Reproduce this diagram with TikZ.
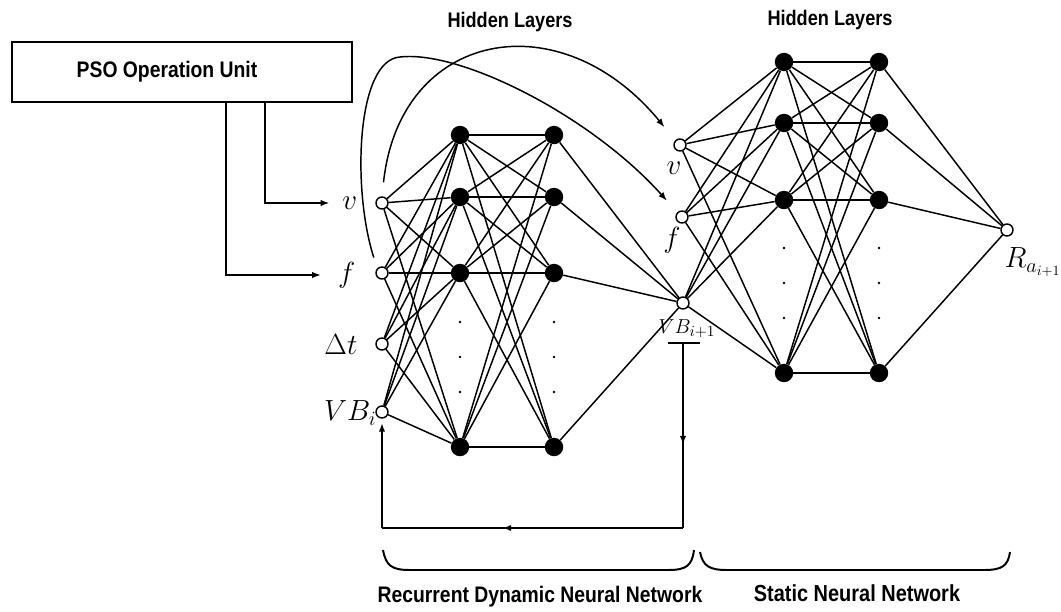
\documentclass[tikz,border=0pt]{standalone}
\usepackage{amsmath}
\usepackage{fontspec}
\newfontfamily\lblfont[FakeStretch=0.86]{Liberation Sans}
\usetikzlibrary{arrows.meta,decorations.markings}
\tikzset{
    in unit/.style={circle, draw, line width=1pt, fill=white, inner sep=0pt, minimum size=0.3cm},
    hid unit/.style={circle, fill=black, inner sep=0pt, minimum size=0.46cm},
    gap dot/.style={circle, fill=black, inner sep=0pt, minimum size=0.07cm},
    var label/.style={font=\fontsize{20}{22}\selectfont, inner sep=1pt},
    title/.style={font=\lblfont\bfseries\fontsize{15}{18}\selectfont},
    link/.style={line width=1.05pt},
    feed/.style={line width=1.2pt},
    mid arrow/.style={postaction={decorate}, decoration={markings, mark=at position #1 with {\arrow{Latex[length=2.2mm,width=1.6mm]}}}},
    brace line/.style={line width=1.4pt}
}
\begin{document}
\begin{tikzpicture}[x=0.025cm, y=-0.025cm, >={Latex[length=2.2mm,width=1.6mm]}]
    \useasboundingbox (0,0) rectangle (1061,612);
    \node[draw, line width=1.4pt, minimum width=8.5cm, minimum height=1.52cm, title, font=\lblfont\bfseries\fontsize{16}{18}\selectfont] (pso) at (182,72) {\hspace*{-0.75cm}PSO Operation Unit};
    \node[title] (hidL) at (510,22) {Hidden Layers};
    \node[title] (hidR) at (830,20) {Hidden Layers};
    \begin{scope}[every node/.style={in unit}]
        \node (inL1) at (382,203) {};
        \node (inL2) at (382,273) {};
        \node (inL3) at (382,344) {};
        \node (inL4) at (382,412) {};
        \node (vbOut) at (683,303) {};
        \node (inR1) at (680,145) {};
        \node (inR2) at (682,217) {};
        \node (rOut) at (1007,230) {};
    \end{scope}
    \foreach \n/\y in {1/135,2/197,3/273,4/447} {
        \node[hid unit] (hA\n) at (460,\y) {};
        \node[hid unit] (hB\n) at (554,\y) {};
    }
    \foreach \n/\y in {1/62,2/123,3/200,4/373} {
        \node[hid unit] (hC\n) at (784,\y) {};
        \node[hid unit] (hD\n) at (879,\y) {};
    }
    \foreach \y in {322,357,392} {
        \node[gap dot] at (460,\y) {};
        \node[gap dot] at (554,\y) {};
    }
    \foreach \y in {248,283,318} {
        \node[gap dot] at (784,\y) {};
        \node[gap dot] at (879,\y) {};
    }
    \foreach \i in {1,...,4} {
        \foreach \j in {1,...,4} {
            \draw[link] (inL\i) -- (hA\j);
            \draw[link] (hA\i) -- (hB\j);
            \draw[link] (hC\i) -- (hD\j);
        }
    }
    \foreach \j in {1,...,4} {
        \draw[link] (hB\j) -- (vbOut);
        \draw[link] (hD\j) -- (rOut);
        \foreach \s in {inR1,inR2,vbOut}
            \draw[link] (\s) -- (hC\j);
    }
    \node[var label, anchor=east] (vLab) at (359,203) {$v$};
    \node[var label, anchor=east] (fLab) at (357,275) {$f$};
    \node[var label, anchor=east] (dtLab) at (359,345) {$\Delta t$};
    \node[var label, anchor=east] (vbLab) at (378,413) {$VB_i$};
    \node[var label] (vRLab) at (674,168) {$v$};
    \node[var label] (fRLab) at (672,240) {$f$};
    \node[var label, font=\fontsize{15}{17}\selectfont] (vbOutLab) at (687,329) {$VB_{i+1}$};
    \node[var label, anchor=west] (rLab) at (1003,262) {$R_{a_{i+1}}$};
    \draw[feed, ->, shorten >=8pt] (pso.south -| 265,0) |- (vLab.west);
    \draw[feed, ->, shorten >=11pt] (pso.south -| 226,0) |- (fLab.west);
    \draw[link, ->, shorten <=10pt, shorten >=12pt] (inL1.north) .. controls (400,30) and (560,0) .. (inR1.north west);
    \draw[link, ->, shorten <=8pt, shorten >=11pt] (inL2.north west) .. controls (352,190) and (356,60) .. (400,57) .. controls (460,50) and (590,115) .. (inR2.north west);
    \coordinate (fbTop) at (683,343);
    \coordinate (fbCorner) at (683,528);
    \coordinate (fbBack) at (382,528);
    \draw[line width=1.4pt] (fbTop) ++(-15,0) -- ++(32,0);
    \draw[feed, mid arrow=0.55] (fbTop) -- (fbCorner);
    \draw[feed, mid arrow=0.6] (fbCorner) -- (fbBack);
    \draw[feed, ->, shorten >=3pt] (fbBack) -- (inL4);
    \draw[brace line] (383,550) .. controls (386,566) and (392,570) .. (410,570) -- (668,570) .. controls (686,570) and (692,566) .. (694,550);
    \draw[brace line] (700,552) .. controls (703,566) and (709,570) .. (727,570) -- (984,570) .. controls (1002,570) and (1008,566) .. (1010,552);
    \node[title, font=\lblfont\bfseries\fontsize{16}{18}\selectfont] (rdnn) at (540,597) {Recurrent Dynamic Neural Network};
    \node[title, font=\lblfont\bfseries\fontsize{16.5}{18}\selectfont] (snn) at (857,593) {Static Neural Network};
\end{tikzpicture}
\end{document}
